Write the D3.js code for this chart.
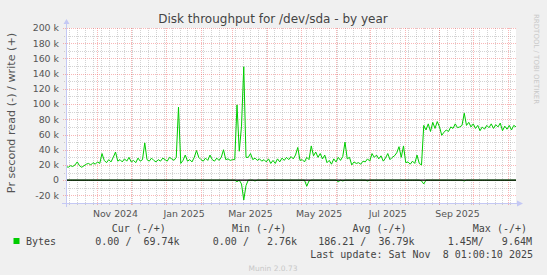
<!DOCTYPE html>
<html>
<head>
<meta charset="utf-8">
<script src="https://cdn.jsdelivr.net/npm/d3@7"></script>
<style>
  body { margin: 0; background: #f0f0f0; }
  svg { display: block; font-family: "DejaVu Sans", sans-serif; }
  .mono { font-family: "DejaVu Sans Mono", monospace; font-size: 10px; fill: #444; white-space: pre; }
</style>
</head>
<body>
<svg width="547" height="275"></svg>
<script>
// time span of the yearly graph (400 days, one value every 2 days)
var startDate = new Date(2024, 9, 4, 1, 0);
var endDate = new Date(2025, 10, 8, 1, 0);
var stepDays = 2;

// write bytes per second, in k
var writeK = [
  18, 17, 19, 18, 20, 24, 19, 17, 19, 21,
  22, 20, 23, 21, 24, 22, 35, 26, 23, 27,
  24, 30, 37, 25, 27, 24, 28, 25, 30, 24,
  26, 23, 29, 25, 27, 49, 27, 25, 29, 26,
  24, 27, 25, 29, 27, 25, 30, 28, 26, 30,
  96, 22, 26, 33, 25, 27, 24, 30, 39, 30,
  27, 25, 29, 26, 33, 27, 25, 29, 26, 30,
  40, 27, 28, 26, 27, 27, 99, 38, 71, 149,
  30, 30, 35, 27, 29, 26, 28, 25, 27, 24,
  28, 22, 26, 22, 28, 24, 29, 26, 30, 27,
  31, 28, 33, 43, 26, 27, 24, 30, 27, 45,
  32, 37, 30, 35, 28, 33, 23, 26, 21, 28,
  24, 30, 26, 31, 50, 28, 30, 20, 24, 22,
  23, 21, 25, 24, 28, 25, 35, 30, 33, 28,
  32, 25, 29, 35, 27, 30, 32, 36, 44, 30,
  45, 23, 24, 21, 25, 22, 33, 22, 20, 72,
  66, 74, 64, 76, 68, 77, 70, 59, 63, 66,
  64, 70, 68, 74, 69, 70, 72, 88, 72, 76,
  70, 74, 68, 72, 65, 70, 67, 72, 69, 74,
  68, 73, 70, 75, 65, 71, 67, 72, 66, 72,
  70
];

// read bytes per second, in k (drawn below zero)
var readK = [
  0, 0, 0, 0, 0, 0, 0, 0, 0, 0,
  0, 0, 0, 0, 0, 0, 0, 0, 0, 0,
  0, 0, 0, 0, 0, 0, 0, 0, 0, 0,
  0, 0, 0, 0, 0, 0, 0, 0, 0, 0,
  0, 0, 0, 0, 0, 0, 0, 0, 0, 0,
  0, 0, 0, 0, 0, 0, 0, 0, 0, 0,
  0, 0, 0, 0, 0, 0, 0, 0, 0, 0,
  0, 0, 0, 0, 0, 0, 2, 0, 5, 26,
  7, 0, 0, 0, 1, 0, 0, 0, 0, 0,
  0, 0, 0, 0, 0, 0, 0, 0, 0, 0,
  0, 0, 0, 0, 0, 0, 0, 8, 1, 0,
  0, 0, 0, 0, 0, 0, 0, 0, 0, 0,
  0, 2, 0, 1, 0, 0, 0, 0, 0, 0,
  0, 0, 0, 0, 1, 0, 0, 0, 0, 0,
  0, 0, 0, 0, 0, 0, 0, 0, 0, 0,
  0, 0, 0, 0, 0, 0, 0, 0, 1, 5,
  0, 0, 0, 0, 0, 0, 0, 0, 0, 0,
  0, 0, 0, 0, 0, 0, 0, 1, 0, 0,
  0, 0, 0, 0, 0, 0, 0, 0, 0, 0,
  0, 0, 0, 0, 0, 0, 0, 0, 0, 0,
  0
];

var yMajor = [-20, 0, 20, 40, 60, 80, 100, 120, 140, 160, 180, 200];
var yMinor = [-30, -10, 10, 30, 50, 70, 90, 110, 130, 150, 170, 190];
var monthLabels = ["Nov 2024", "Jan 2025", "Mar 2025", "May 2025", "Jul 2025", "Sep 2025"];
var monthLabelDates = [new Date(2024, 10, 1), new Date(2025, 0, 1), new Date(2025, 2, 1),
                       new Date(2025, 4, 1), new Date(2025, 6, 1), new Date(2025, 8, 1)];

var legendHeads = ["Cur (-/+)", "Min (-/+)", "Avg (-/+)", "Max (-/+)"];
var legendVals = ["0.00 /  69.74k", "0.00 /   2.76k", "186.21 /  36.79k", "1.45M/   9.64M"];
var lastUpdate = "Last update: Sat Nov  8 01:00:10 2025";

var svg = d3.select("svg");
var plotL = 66, plotR = 516, plotT = 28, plotB = 203;

var x = d3.scaleTime().domain([startDate, endDate]).range([plotL, plotR]);
var y = d3.scaleLinear().domain([-30000, 200000]).range([plotB, plotT]);

var dates = writeK.map(function (d, i) { return d3.timeDay.offset(startDate, i * stepDays); });

svg.append("rect").attr("width", 547).attr("height", 275).attr("fill", "#f0f0f0");
svg.append("rect").attr("x", plotL).attr("y", plotT).attr("width", plotR - plotL).attr("height", plotB - plotT).attr("fill", "#fff");

var minorCol = "rgba(140,140,140,0.38)";
var majorCol = "rgba(240,80,80,0.42)";
var grid = svg.append("g").attr("shape-rendering", "crispEdges");

// minor grid: weeks and 10k
var weeks = d3.timeMonday.range(startDate, endDate);
grid.selectAll(".vmin").data(weeks).enter().append("line")
  .attr("x1", function (d) { return Math.round(x(d)) + 0.5; })
  .attr("x2", function (d) { return Math.round(x(d)) + 0.5; })
  .attr("y1", plotT).attr("y2", plotB + 2)
  .attr("stroke", minorCol).attr("stroke-dasharray", "1,1");
grid.selectAll(".hmin").data(yMinor).enter().append("line")
  .attr("x1", plotL - 2).attr("x2", plotR)
  .attr("y1", function (d) { return Math.round(y(d * 1000)) + 0.5; })
  .attr("y2", function (d) { return Math.round(y(d * 1000)) + 0.5; })
  .attr("stroke", minorCol).attr("stroke-dasharray", "1,1");

// major grid: months and 20k
var months = d3.timeMonth.range(startDate, endDate);
grid.selectAll(".vmaj").data(months).enter().append("line")
  .attr("x1", function (d) { return Math.round(x(d)) + 0.5; })
  .attr("x2", function (d) { return Math.round(x(d)) + 0.5; })
  .attr("y1", plotT).attr("y2", plotB + 3)
  .attr("stroke", majorCol).attr("stroke-dasharray", "1,1");
grid.selectAll(".hmaj").data(yMajor).enter().append("line")
  .attr("x1", plotL - 3).attr("x2", plotR)
  .attr("y1", function (d) { return Math.round(y(d * 1000)) + 0.5; })
  .attr("y2", function (d) { return Math.round(y(d * 1000)) + 0.5; })
  .attr("stroke", majorCol).attr("stroke-dasharray", "1,1");

// series
var line = d3.line().x(function (d) { return x(d[0]); }).y(function (d) { return y(d[1]); });
svg.append("path")
  .datum(dates.map(function (d, i) { return [d, -readK[i] * 1000]; }))
  .attr("d", line).attr("fill", "none").attr("stroke", "#00cc00").attr("stroke-width", 1);
svg.append("path")
  .datum(dates.map(function (d, i) { return [d, writeK[i] * 1000]; }))
  .attr("d", line).attr("fill", "none").attr("stroke", "#00cc00").attr("stroke-width", 1);

// zero line
svg.append("line").attr("x1", plotL).attr("x2", plotR)
  .attr("y1", y(0)).attr("y2", y(0)).attr("stroke", "#000").attr("stroke-width", 1.3);

// axes with arrows
var axisCol = "#c4c8f4";
svg.append("line").attr("x1", plotL + 0.5).attr("x2", plotL + 0.5).attr("y1", plotB + 4).attr("y2", plotT - 5)
  .attr("stroke", axisCol);
svg.append("path").attr("d", "M" + (plotL - 2.5) + "," + (plotT - 4) + "L" + (plotL + 3.5) + "," + (plotT - 4) + "L" + (plotL + 0.5) + "," + (plotT - 9) + "Z")
  .attr("fill", axisCol);
svg.append("line").attr("x1", plotL - 4).attr("x2", plotR + 2).attr("y1", plotB + 0.5).attr("y2", plotB + 0.5)
  .attr("stroke", axisCol);
svg.append("path").attr("d", "M" + (plotR + 1) + "," + (plotB - 2.5) + "L" + (plotR + 1) + "," + (plotB + 3.5) + "L" + (plotR + 7) + "," + (plotB + 0.5) + "Z")
  .attr("fill", axisCol);

// y tick labels
svg.selectAll(".ylab").data(yMajor).enter().append("text")
  .attr("x", 59).attr("y", function (d) { return y(d * 1000); }).attr("dy", "0.35em")
  .attr("text-anchor", "end").attr("font-size", "9.4px").attr("fill", "#555")
  .text(function (d) { return d === 0 ? "0" : d + " k"; });

// x tick labels, centred half a month after the month start
svg.selectAll(".xlab").data(monthLabelDates).enter().append("text")
  .attr("x", function (d) { return x(d3.timeDay.offset(d, 16)); }).attr("y", 216.5)
  .attr("text-anchor", "middle").attr("font-size", "9.4px").attr("fill", "#555")
  .text(function (d, i) { return monthLabels[i]; });

// title and side texts
svg.append("text").attr("x", 273).attr("y", 23).attr("text-anchor", "middle")
  .attr("font-size", "12px").attr("fill", "#444").text("Disk throughput for /dev/sda - by year");
svg.append("text").attr("transform", "translate(15,113) rotate(-90)").attr("text-anchor", "middle")
  .attr("font-size", "11.2px").attr("fill", "#555").text("Pr second read (-) / write (+)");
svg.append("text").attr("transform", "translate(534,14) rotate(90)")
  .attr("font-size", "7px").attr("fill", "#c8c8c8").text("RRDTOOL / TOBI OETIKER");

// legend
var headX = [111.7, 232, 352.4, 472.8];
var valX = [95.3, 212.8, 318.2, 447.7];
svg.selectAll(".lh").data(legendHeads).enter().append("text").attr("class", "mono")
  .attr("x", function (d, i) { return headX[i]; }).attr("y", 232).text(function (d) { return d; });
svg.append("rect").attr("x", 13.5).attr("y", 238).attr("width", 6).attr("height", 6).attr("fill", "#00cc00");
svg.append("text").attr("class", "mono").attr("x", 26).attr("y", 244.5).text("Bytes");
svg.selectAll(".lv").data(legendVals).enter().append("text").attr("class", "mono")
  .attr("x", function (d, i) { return valX[i]; }).attr("y", 244.5).text(function (d) { return d; });
svg.append("text").attr("class", "mono").attr("x", 533).attr("y", 257.5).attr("text-anchor", "end").text(lastUpdate);

svg.append("text").attr("x", 273).attr("y", 270.5).attr("text-anchor", "middle")
  .attr("font-size", "7.5px").attr("fill", "#c8c8c8").text("Munin 2.0.73");
</script>
</body>
</html>
